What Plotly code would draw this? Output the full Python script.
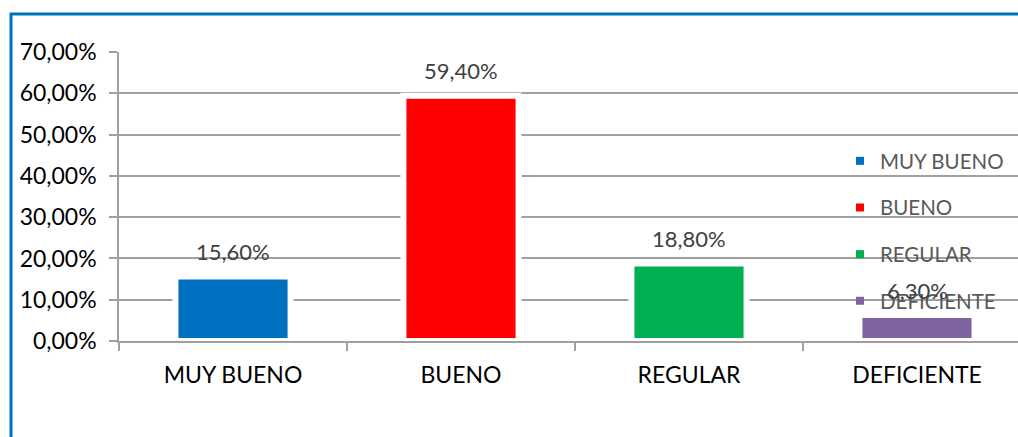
import plotly.graph_objects as go

categories = ["MUY BUENO", "BUENO", "REGULAR", "DEFICIENTE"]
values = [15.6, 59.4, 18.8, 6.3]
value_labels = ["15,60%", "59,40%", "18,80%", "6,30%"]
colors = ["#0070C0", "#FF0000", "#00B050", "#8064A2"]
y_tickvals = [0, 10, 20, 30, 40, 50, 60, 70]
y_ticktext = ["0,00%", "10,00%", "20,00%", "30,00%", "40,00%", "50,00%", "60,00%", "70,00%"]

FONT = "Lato"
W, H = 1018, 437
ML, MR, MT, MB = 119, 0, 52, 96
plot_w = W - ML - MR
plot_h = H - MT - MB

def px_x(px):
    return (px - ML) / plot_w

def px_y(py):
    return (H - MB - py) / plot_h

fig = go.Figure()
fig.add_trace(go.Bar(
    x=categories, y=values,
    marker=dict(color=colors, line=dict(color="white", width=6)),
    width=0.505, showlegend=False, hoverinfo="skip",
))
for cat, col in zip(categories, colors):
    fig.add_trace(go.Scatter(
        x=[None], y=[None], mode="markers", name=cat, legendgroup=cat,
        marker=dict(symbol="square", size=8, color=col),
    ))

for cat, v, lab in zip(categories, values, value_labels):
    fig.add_annotation(x=cat, y=v, text=lab, showarrow=False, yanchor="middle",
                       yshift=25, font=dict(family=FONT, size=22, color="#404040"))

# blue outer frame
fig.add_shape(type="rect", xref="paper", yref="paper",
              x0=px_x(11), x1=1.2, y0=-0.6, y1=px_y(14),
              line=dict(color="#0070C0", width=3), layer="above")

fig.update_layout(
    width=W, height=H,
    margin=dict(l=ML, r=MR, t=MT, b=MB, pad=0),
    paper_bgcolor="white", plot_bgcolor="white",
    font=dict(family=FONT, color="#000000"),
    bargap=0.5,
    legend=dict(x=px_x(840), y=px_y(141), xanchor="left", yanchor="top",
                bgcolor="rgba(0,0,0,0)", tracegroupgap=17,
                font=dict(family=FONT, size=20.5, color="#595959")),
    xaxis=dict(type="category", range=[-0.5, 3.443], showgrid=False,
               showline=True, linecolor="#A0A0A0", linewidth=1.5,
               ticks="outside", tickson="boundaries", ticklen=8,
               tickcolor="#A0A0A0", tickwidth=1.5, ticklabelstandoff=13,
               tickfont=dict(family=FONT, size=23, color="#000000")),
    yaxis=dict(range=[0, 70.02], tickvals=y_tickvals, ticktext=y_ticktext,
               showgrid=True, gridcolor="#A0A0A0", gridwidth=1.5,
               showline=True, linecolor="#A0A0A0", linewidth=1.5,
               zeroline=False, ticks="outside", ticklen=8,
               tickcolor="#A0A0A0", tickwidth=1.5, ticklabelstandoff=8,
               tickfont=dict(family=FONT, size=23, color="#000000")),
)

fig.write_html("out.html",
               config={"displayModeBar": False},
               post_script="document.body.style.margin='0';document.body.style.overflow='hidden';")
